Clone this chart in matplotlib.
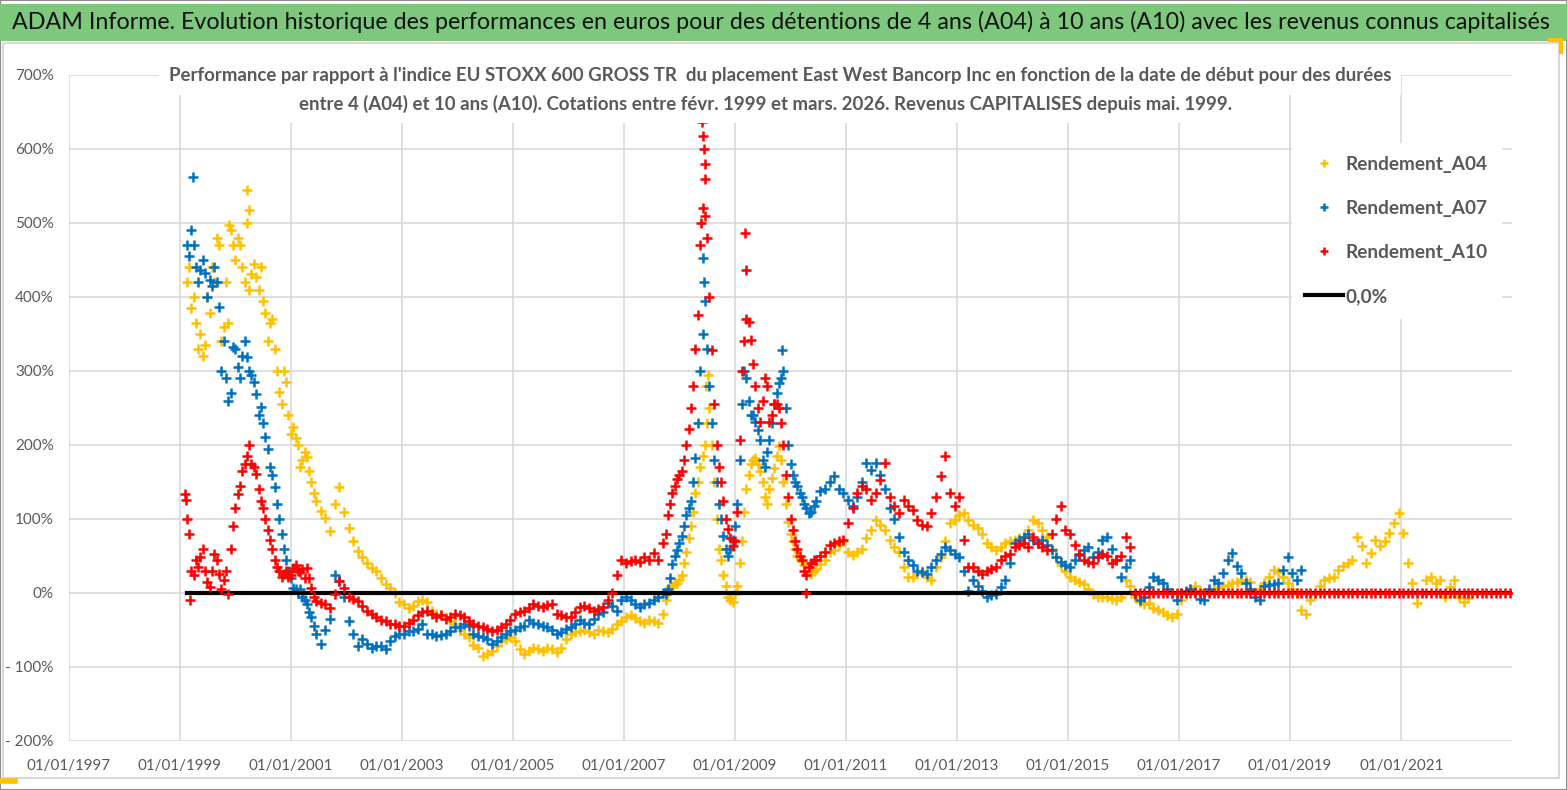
import pandas as pd
import matplotlib.pyplot as plt
import matplotlib.dates as mdates
from matplotlib.patches import Rectangle
from matplotlib.lines import Line2D

FONT = ['Lato', 'DejaVu Sans']
plt.rcParams['font.family'] = FONT

# monthly values (%), mid-month, first point = Feb 1999
a04 = [
    420, 385, 365, 350, 335, 378, 420, 470, 360, 365, 470,             # 1999
    480, 440, 500, 431, 427, 440, 378, 365, 330, 272, 300, 240,        # 2000
    225, 200, 180, 184, 150, 125, 111, 102, 84, 120, 143, 110,         # 2001
    88, 70, 57, 48, 40, 34, 30, 20, 12, 7, 0, -12,                     # 2002
    -15, -20, -18, -11, -9, -12, -24, -28, -30, -33, -38, -42,         # 2003
    -50, -55, -60, -70, -74, -85, -82, -78, -72, -65, -62, -60,        # 2004
    -65, -75, -83, -78, -74, -76, -78, -74, -76, -80, -74, -62,        # 2005
    -55, -53, -51, -50, -53, -55, -50, -52, -53, -48, -42, -38,        # 2006
    -33, -30, -34, -38, -40, -37, -38, -40, -29, 0, 10, 14,            # 2007
    24, 55, 90, 135, 170, 200, 250, 150, 60, 25, -5, -12,              # 2008
    10, 70, 140, 175, 183, 165, 130, 140, 169, 198, 150, 96,           # 2009
    70, 50, 43, 30, 26, 32, 39, 45, 55, 58, 65, 70,                    # 2010
    55, 52, 56, 60, 75, 85, 99, 92, 85, 71, 62, 55,                    # 2011
    35, 22, 21, 26, 30, 22, 17, 35, 49, 70, 94, 99,                    # 2012
    105, 108, 99, 92, 88, 80, 67, 62, 58, 62, 67, 70,                  # 2013
    71, 74, 76, 85, 99, 94, 85, 76, 60, 49, 38, 30,                    # 2014
    21, 17, 15, 12, 5, -1, -6, -5, -6, -8, -10, -5,                    # 2015
    17, 10, -6, -12, -15, -14, -20, -23, -25, -30, -32, -28,           # 2016
    -10, -2, 5, 9, 4, 0, 2, 4, 7, 9, 11, 13,                           # 2017
    15, 18, 17, 15, 0, 5, 13, 22, 31, 28, 22, 13,                      # 2018
    5, 0, -23, -28, -10, -2, 9, 18, 20, 22, 31, 36,                    # 2019
    40, 45, 76, 63, 40, 54, 72, 63, 70, 81, 95, 108,                   # 2020
    81, 40, 13, -14, 0, 18, 22, 13, 18, -5, 8, 18,                     # 2021
    -5, -12, -7,                                                       # 2022
]

a07 = [
    470, 490, 441, 436, 432, 423, 441, 387, 341, 260, 332,             # 1999
    305, 320, 319, 295, 269, 251, 211, 170, 143, 100, 60, 30,          # 2000
    7, 0, -6, -15, -33, -55, -69, -50, -35, 25, 16, -6,                # 2001
    -38, -56, -72, -62, -69, -74, -72, -72, -76, -65, -58, -56,        # 2002
    -55, -52, -51, -48, -42, -55, -55, -58, -57, -55, -52, -46,        # 2003
    -46, -42, -45, -55, -58, -60, -62, -69, -65, -60, -55, -51,        # 2004
    -50, -46, -44, -37, -40, -42, -44, -46, -50, -55, -53, -48,        # 2005
    -46, -42, -37, -40, -42, -35, -29, -25, -14, -18, -24, -10,        # 2006
    -5, -10, -15, -19, -15, -14, -10, -5, 0, 5, 39, 58,                # 2007
    77, 106, 125, 183, 300, 395, 280, 180, 120, 77, 50, 72,            # 2008
    120, 255, 290, 240, 231, 207, 170, 207, 255, 284, 300, 200,        # 2009
    160, 145, 130, 115, 110, 125, 138, 140, 150, 158, 140, 135,        # 2010
    126, 117, 130, 150, 176, 166, 176, 160, 140, 115, 100, 76,         # 2011
    55, 45, 38, 30, 28, 26, 35, 45, 53, 62, 58, 53,                    # 2012
    49, 30, 3, 17, 10, 3, -6, -3, -1, 8, 17, 40,                       # 2013
    67, 72, 76, 80, 72, 67, 71, 65, 58, 49, 42, 38,                    # 2014
    35, 45, 52, 58, 62, 49, 55, 71, 76, 60, 44, 21,                    # 2015
    35, 44, -1, -10, -5, 8, 21, 18, 13, 5, 0, -10,                     # 2016
    0, 3, 6, 2, -8, -10, 5, 18, 13, 27, 45, 54,                        # 2017
    36, 27, 13, 5, -5, -10, 9, 11, 12, 13, 31, 49,                     # 2018
    27, 18, 31,                                                        # 2019
]

a10 = [
    100, 30, 44, 48, 30, 8, 53, 26, 17, -1, 90,                        # 1999
    134, 165, 185, 175, 161, 125, 100, 71, 44, 30, 26, 21,             # 2000
    34, 30, 32, 34, 7, -11, -13, -15, -20, -2, 16, 7,                  # 2001
    -6, -8, -11, -18, -24, -28, -33, -36, -38, -42, -42, -45,          # 2002
    -44, -40, -37, -30, -26, -24, -28, -33, -30, -35, -33, -28,        # 2003
    -30, -33, -38, -42, -44, -46, -48, -51, -50, -46, -42, -37,        # 2004
    -28, -26, -24, -20, -15, -17, -19, -16, -15, -28, -30, -32,        # 2005
    -33, -25, -19, -17, -20, -24, -22, -19, -10, 0, 24, 45,            # 2006
    40, 43, 45, 42, 48, 45, 54, 45, 67, 106, 135, 154,                 # 2007
    165, 200, 250, 330, 470, 580, 400, 255, 170, 125, 87, 63,          # 2008
    110, 300, 370, 342, 280, 231, 290, 231, 255, 250, 200, 130,        # 2009
    85, 60, 45, 25, 40, 45, 50, 55, 65, 67, 70, 72,                    # 2010
    94, 115, 135, 144, 140, 126, 135, 153, 176, 130, 117, 108,         # 2011
    126, 118, 112, 99, 92, 90, 108, 130, 158, 185, 135, 117,           # 2012
    130, 71, 35, 35, 30, 26, 30, 32, 35, 44, 50, 53,                   # 2013
    62, 65, 67, 62, 76, 67, 62, 58, 80, 100, 117, 85,                  # 2014
    80, 65, 53, 44, 42, 40, 49, 53, 50, 40, 44, 50,                    # 2015
    76, 62,                                                            # 2016
] + [0] * 82                                                           # mars 2016 -> dec 2022

# extra readings on the 1st of the month where the cloud is wide
# block 1: Mar 1999 -> Jun 2001, block 2: Oct 2007 -> Jun 2010
a04_b1 = [440, 400, 330, 320, 400, 440, 480, 340, 420, 490,
          450, 470, 420, 410, 445, 410, 395, 340, 370, 300, 255, 285,
          215, 210, 170, 190, 165, 135]
a04_b2 = [-10, 8, 12,
          18, 40, 75, 110, 150, 185, 230, 200, 100, 45, 10, -10,
          -2, 40, 110, 160, 180, 175, 150, 120, 155, 185, 180, 120,
          80, 60, 48, 38, 28, 30]
a07_b1 = [455, 470, 420, 450, 400, 415, 420, 300, 290, 270,
          330, 290, 340, 300, 285, 240, 230, 195, 160, 120, 80, 45,
          20, 5, 5, -10, -25, -45]
a07_b2 = [-2, 20, 50,
          68, 90, 115, 150, 230, 350, 330, 230, 150, 100, 60, 60,
          90, 180, 300, 260, 240, 220, 180, 190, 230, 270, 290, 250,
          175, 150, 135, 120, 108, 118]
a10_b1 = [80, 25, 35, 60, 15, 30, 45, 5, 30, 60,
          115, 145, 175, 200, 170, 140, 115, 85, 60, 35, 22, 30,
          25, 38, 28, 20, 20, -6]
a10_b2 = [80, 120, 145,
          160, 180, 222, 280, 376, 520, 480, 328, 200, 150, 100, 75,
          70, 207, 340, 366, 310, 250, 260, 280, 240, 255, 230, 159,
          100, 70, 50, 30, 35, 44]

# isolated points (spikes)
a04_spike_dates = ["1999-11-20", "2000-03-20", "2000-03-28", "2008-06-25", "2008-07-05"]
a04_spike_vals = [497, 545, 518, 280, 295]
a07_spike_dates = ["1999-03-25", "2008-06-02", "2008-06-12", "2009-11-05"]
a07_spike_vals = [562, 453, 420, 328]
a10_spike_dates = ["1999-02-05", "1999-02-10", "1999-03-05", "2008-05-20", "2008-05-28",
                   "2008-06-03", "2008-06-08", "2008-06-14", "2008-06-20", "2009-03-04",
                   "2009-03-12", "2010-04-10"]
a10_spike_vals = [134, 126, -10, 500, 636, 617, 600, 559, 510, 487, 436, 0]

zero_dates = ["1999-02-15", "2022-12-31"]
zero_vals = [0.0, 0.0]

series = [
    ("Rendement_A04", a04, a04_b1, a04_b2, a04_spike_dates, a04_spike_vals, "#FFC000"),
    ("Rendement_A07", a07, a07_b1, a07_b2, a07_spike_dates, a07_spike_vals, "#0070C0"),
    ("Rendement_A10", a10, a10_b1, a10_b2, a10_spike_dates, a10_spike_vals, "#FF0000"),
]

W, H = 1567, 790
fig = plt.figure(figsize=(W / 100, H / 100), dpi=100)
renderer = fig.canvas.get_renderer()


def fx(px):
    return px / W


def fy(py):
    return 1 - py / H


def fit(t, width):
    w = t.get_window_extent(renderer).width
    t.set_fontsize(t.get_fontsize() * width / w)


def size_for(s, width, **kw):
    t = fig.text(0, 0, s, fontsize=10, **kw)
    fit(t, width)
    size = t.get_fontsize()
    t.remove()
    return size


# header band and frame
fig.add_artist(Rectangle((0, 0), 1, 1, transform=fig.transFigure, fill=False,
                         edgecolor="#8c8c8c", lw=1.5))
fig.add_artist(Rectangle((0, fy(41)), 1, fy(4) - fy(41), transform=fig.transFigure,
                         facecolor="#7DC87D", edgecolor="none"))
fig.add_artist(Rectangle((fx(3), fy(778)), fx(1559) - fx(3), fy(43) - fy(778),
                         transform=fig.transFigure, fill=False, edgecolor="#d9d9d9", lw=1.5))
yel = "#FFC000"
fig.add_artist(Line2D([fx(1550), fx(1561), fx(1561)], [fy(40), fy(40), fy(52)],
                      transform=fig.transFigure, color=yel, lw=3))
fig.add_artist(Line2D([fx(0), fx(15)], [fy(781), fy(781)],
                      transform=fig.transFigure, color=yel, lw=4))

ax = fig.add_axes([fx(69), fy(741), fx(1512) - fx(69), fy(75) - fy(741)])

mk = dict(linestyle="none", marker="+", ms=7.5, mew=1.8)
order_z = {"Rendement_A04": 3, "Rendement_A07": 4, "Rendement_A10": 6}
for name, vals, b1, b2, sd, sv, col in series:
    z = order_z[name]
    d = pd.date_range("1999-02-01", periods=len(vals), freq="MS") + pd.Timedelta(days=14)
    ax.plot(d, vals, color=col, zorder=z, label=name, **mk)
    ax.plot(pd.date_range("1999-03-01", periods=len(b1), freq="MS"), b1, color=col, zorder=z, **mk)
    ax.plot(pd.date_range("2007-10-01", periods=len(b2), freq="MS"), b2, color=col, zorder=z, **mk)
    ax.plot(pd.to_datetime(sd), sv, color=col, zorder=z, **mk)
ax.plot(pd.to_datetime(zero_dates), zero_vals, color="black", lw=3, zorder=5, label="0,0%")

ax.set_ylim(-200, 700)
ax.set_yticks(range(-200, 701, 100))
ax.set_yticklabels([f"- {abs(v)}%" if v < 0 else f"{v}%" for v in range(-200, 701, 100)])
ax.set_xlim(pd.Timestamp("1997-01-01"), pd.Timestamp("2022-12-31"))
ax.set_xticks([pd.Timestamp(f"{y}-01-01") for y in range(1997, 2022, 2)])
ax.xaxis.set_major_formatter(mdates.DateFormatter("%d/%m/%Y"))

ax.grid(True, color="#d9d9d9", lw=1.2)
ax.set_axisbelow(True)
for s in ax.spines.values():
    s.set_visible(False)
ax.tick_params(length=0, colors="#595959")
ax.tick_params(axis="x", labelsize=size_for("01/01/1997", 84), pad=13)
ax.tick_params(axis="y", labelsize=size_for("- 200%", 48), pad=11)

title = fig.text(fx(12), fy(22), "ADAM Informe. Evolution historique des performances en euros pour des "
                 "détentions de 4 ans (A04) à 10 ans (A10) avec les revenus connus capitalisés",
                 ha="left", va="center", fontsize=16, color="#111111")
fit(title, 1543)

sub1 = fig.text(fx(780), fy(76), "Performance par rapport à l'indice EU STOXX 600 GROSS TR  du placement "
                "East West Bancorp Inc en fonction de la date de début pour des durées",
                ha="center", va="center", fontsize=13, fontweight="bold", color="#595959",
                bbox=dict(facecolor="white", edgecolor="none", pad=7), zorder=8)
fit(sub1, 1216)
sub2 = fig.text(fx(766), fy(104), "entre 4 (A04) et 10 ans (A10). Cotations entre févr. 1999 et mars. 2026. "
                "Revenus CAPITALISES depuis mai. 1999.",
                ha="center", va="center", fontsize=sub1.get_fontsize(), fontweight="bold",
                color="#595959", bbox=dict(facecolor="white", edgecolor="none", pad=7), zorder=8)

leg_size = size_for("Rendement_A04", 143, fontweight="bold")
leg = ax.legend(loc="upper left", bbox_to_anchor=(fx(1282), fy(133)), bbox_transform=fig.transFigure,
                frameon=True, fancybox=False, framealpha=1, edgecolor="white",
                prop=dict(family=FONT, weight="bold", size=leg_size), labelcolor="#595959",
                handlelength=2.0, handletextpad=0.15, labelspacing=1.42, markerscale=0.7,
                borderpad=0.7)
leg.set_zorder(9)

fig.savefig("out.png", dpi=100)
